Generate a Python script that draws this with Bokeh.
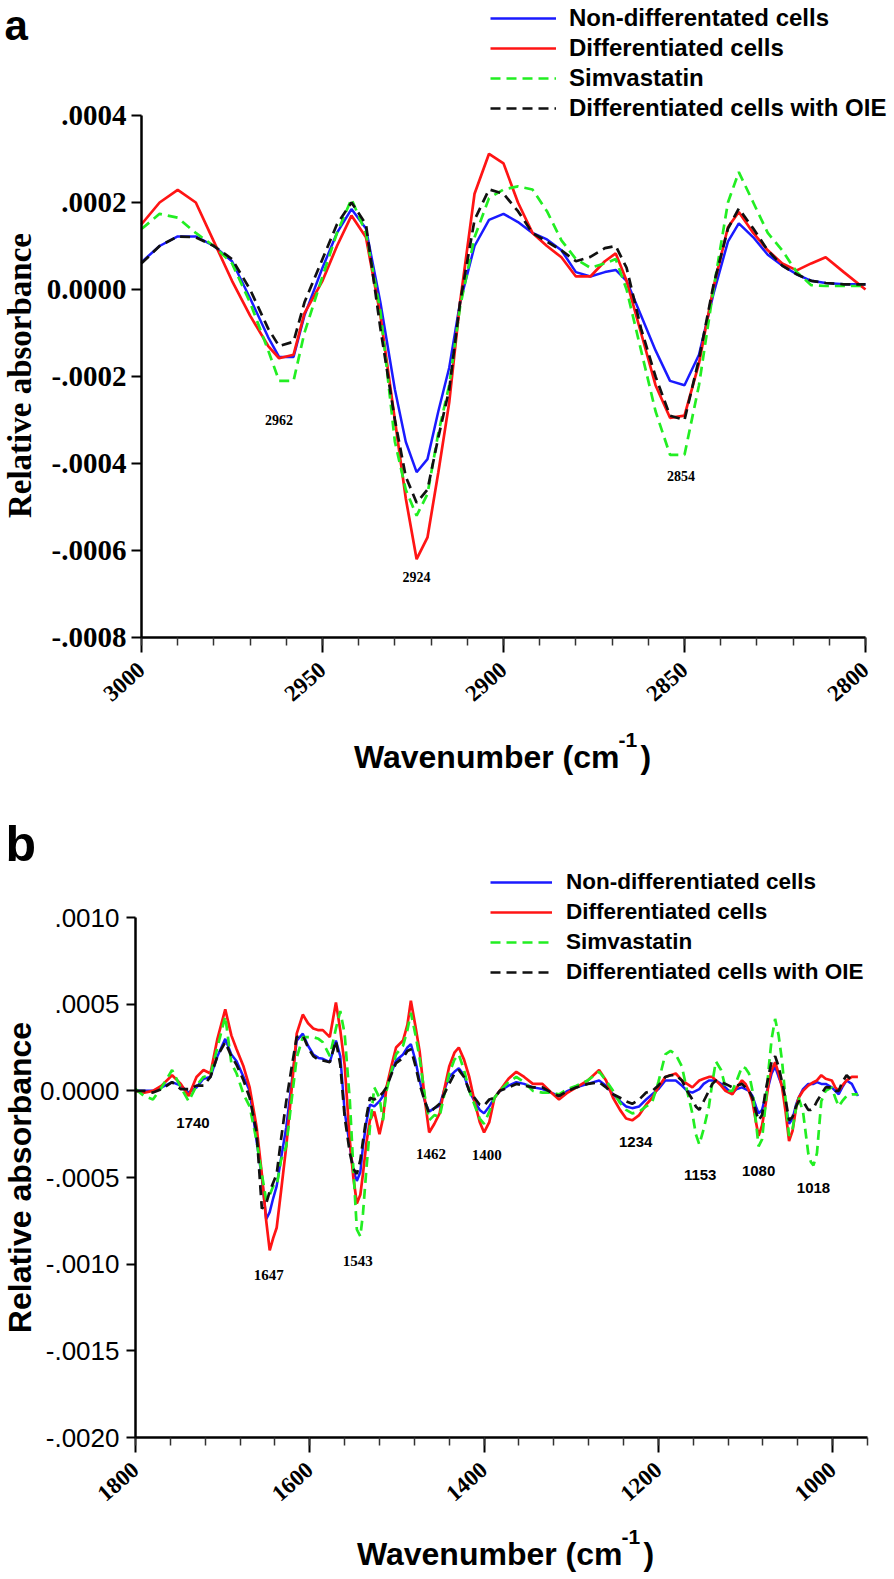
import math
from bokeh.plotting import figure
from bokeh.models import Range1d, FixedTicker, Label, Legend, LegendItem
from bokeh.layouts import column
from bokeh.embed import file_html
from bokeh.resources import INLINE

SCALE = 1e-4  # series values below are in units of 1e-4 absorbance

# ---------------- Panel a (3000-2800 cm-1) ----------------
wn_a = [3000, 2995, 2990, 2985, 2980, 2975, 2970, 2965, 2962, 2958,
        2955, 2950, 2946, 2942, 2938, 2934, 2930, 2927, 2924, 2921,
        2918, 2915, 2912, 2908, 2904, 2900, 2896, 2892, 2888, 2884,
        2880, 2876, 2872, 2869, 2866, 2862, 2858, 2854, 2850, 2846,
        2842, 2838, 2835, 2831, 2827, 2823, 2819, 2815, 2811, 2806, 2800]
nondiff_a = [0.63, 1.0, 1.22, 1.22, 1.0, 0.65, -0.2, -1.1, -1.55, -1.55,
             -0.6, 0.5, 1.3, 1.85, 1.4, -0.3, -2.3, -3.5, -4.2, -3.9,
             -2.8, -1.8, -0.3, 1.0, 1.6, 1.74, 1.55, 1.3, 1.15, 0.9,
             0.4, 0.3, 0.4, 0.45, 0.2, -0.6, -1.4, -2.1, -2.2, -1.5,
             -0.1, 1.1, 1.52, 1.2, 0.8, 0.55, 0.35, 0.2, 0.15, 0.12, 0.12]
diff_a = [1.5, 2.0, 2.29, 2.0, 1.1, 0.2, -0.6, -1.3, -1.58, -1.5,
          -0.55, 0.2, 1.0, 1.7, 1.2, -0.6, -3.0, -4.8, -6.2, -5.7,
          -4.2, -2.6, -0.3, 2.2, 3.12, 2.9, 2.0, 1.3, 1.0, 0.74,
          0.3, 0.3, 0.65, 0.83, 0.2, -1.0, -2.2, -2.95, -2.9, -1.7,
          0.05, 1.43, 1.78, 1.3, 0.9, 0.6, 0.44, 0.6, 0.74, 0.4, 0.0]
simva_a = [1.39, 1.74, 1.65, 1.3, 1.0, 0.6, -0.3, -1.4, -2.1, -2.1,
           -1.0, 0.3, 1.3, 2.08, 1.3, -0.5, -3.5, -4.6, -5.2, -4.7,
           -3.3, -2.2, -0.4, 1.2, 2.1, 2.3, 2.37, 2.3, 1.8, 1.13,
           0.7, 0.5, 0.6, 0.7, 0.0, -1.4, -2.8, -3.8, -3.8, -2.2,
           0.0, 2.0, 2.7, 2.0, 1.3, 0.9, 0.4, 0.1, 0.08, 0.08, 0.08]
oie_a = [0.6, 1.0, 1.22, 1.2, 1.0, 0.7, 0.0, -0.9, -1.3, -1.2,
         -0.3, 0.7, 1.5, 2.0, 1.5, -0.9, -3.0, -4.3, -4.9, -4.6,
         -3.4, -2.3, -0.3, 1.6, 2.3, 2.2, 1.8, 1.3, 1.1, 0.9,
         0.65, 0.75, 0.95, 1.0, 0.5, -0.9, -2.0, -2.9, -3.0, -1.6,
         0.1, 1.4, 1.86, 1.4, 0.9, 0.55, 0.35, 0.2, 0.15, 0.12, 0.12]
xticks_a = [3000, 2950, 2900, 2850, 2800]
yticks_a = [0.0004, 0.0002, 0, -0.0002, -0.0004, -0.0006, -0.0008]
ylabels_a = [".0004", ".0002", "0.0000", "-.0002", "-.0004", "-.0006", "-.0008"]
peak_text_a = ["2962", "2924", "2854"]
peak_x_a = [2962, 2924, 2851]
peak_y_a = [-3.01, -6.62, -4.28]

# ---------------- Panel b (1800-960 cm-1) ----------------
nan = float("nan")
wn_b = [1800, 1790, 1780, 1770, 1758, 1748, 1739, 1730, 1722, 1714,
        1706, 1697, 1690, 1684, 1676, 1669, 1661, 1655, 1650, 1646,
        1642, 1638, 1633, 1627, 1621, 1615, 1608, 1602, 1596, 1590,
        1585, 1577, 1570, 1565, 1560, 1554, 1550, 1546, 1542, 1539,
        1535, 1531, 1526, 1520, 1516, 1512, 1506, 1501, 1493, 1488,
        1484, 1479, 1474, 1468, 1463, 1457, 1451, 1446, 1440, 1434,
        1429, 1423, 1417, 1411, 1405, 1400, 1394, 1388, 1382, 1372,
        1363, 1354, 1344, 1333, 1323, 1314, 1304, 1294, 1281, 1268,
        1260, 1252, 1244, 1237, 1230, 1222, 1214, 1207, 1200, 1192,
        1186, 1180, 1173, 1167, 1161, 1157, 1153, 1148, 1142, 1138,
        1134, 1128, 1123, 1119, 1115, 1110, 1104, 1100, 1096, 1092,
        1088, 1085, 1081, 1077, 1073, 1070, 1066, 1062, 1058, 1054,
        1050, 1046, 1042, 1039, 1034, 1028, 1025, 1022, 1018, 1013,
        1008, 1001, 997, 993, 989, 984, 978, 971]
diff_b = [0.0, -0.1, 0.0, 0.3, 0.9, 0.4, -0.3, 0.8, 1.2, 1.0,
          3.0, 4.7, 3.2, 2.4, 1.4, 0.2, -2.1, -4.8, -7.5, -9.2,
          -8.5, -7.9, -5.8, -3.2, 0.0, 3.3, 4.4, 3.9, 3.6, 3.5,
          3.5, 3.1, 5.1, 3.5, 1.5, -2.9, -5.0, -6.5, -6.0, -4.8,
          -3.0, -1.7, -1.2, -2.5, -1.6, 0.2, 1.5, 2.5, 2.9, 3.8,
          5.2, 3.8, 2.3, -0.5, -2.4, -1.9, -1.3, 0.0, 1.4, 2.2,
          2.5, 1.8, 0.8, -0.6, -1.8, -2.4, -1.8, -0.4, 0.0, 0.7,
          1.1, 0.8, 0.4, 0.4, -0.1, -0.5, -0.1, 0.2, 0.6, 1.2,
          0.6, -0.4, -1.1, -1.6, -1.7, -1.4, -0.8, -0.4, 0.2, 0.8,
          0.9, 1.0, 0.6, 0.4, 0.2, 0.4, 0.6, 0.7, 0.8, 0.8,
          0.6, 0.3, 0.0, -0.1, -0.2, 0.2, 0.6, 0.4, 0.0, -0.6,
          -1.8, -2.6, -2.0, -0.8, 0.6, 1.2, 1.65, 1.0, 0.2, -1.2,
          -2.9, -2.3, -1.0, -0.4, 0.0, 0.3, 0.4, 0.5, 0.6, 0.9,
          0.7, 0.6, 0.2, 0.0, 0.3, 0.6, 0.8, 0.8]
nondiff_b = [0.0, 0.0, 0.0, 0.2, 0.5, 0.3, -0.1, 0.2, 0.7, 0.8,
             2.0, 3.0, 2.1, 1.7, 0.8, 0.0, -2.9, -5.0, -7.4, -7.0,
             -6.2, -5.5, -3.9, -2.1, 0.4, 2.9, 3.3, 2.6, 2.1, 1.9,
             1.85, 1.65, 2.9, 2.0, -1.2, -3.2, -4.6, -5.2, -4.7, -3.2,
             -1.8, -0.8, -0.9, -0.6, -0.3, 0.2, 1.1, 1.75, 2.1, 2.5,
             2.7, 1.8, 0.6, -0.6, -1.2, -1.0, -0.85, 0.0, 0.8, 1.1,
             1.3, 0.9, 0.0, -0.6, -1.1, -1.3, -0.9, -0.4, 0.0, 0.3,
             0.5, 0.4, 0.2, 0.1, -0.1, -0.3, 0.0, 0.2, 0.4, 0.6,
             0.3, -0.2, -0.6, -0.9, -1.0, -0.9, -0.5, -0.2, 0.1, 0.6,
             0.6, 0.6, 0.3, 0.0, -0.1, 0.0, 0.1, 0.4, 0.6, 0.6,
             0.6, 0.4, 0.2, 0.0, -0.1, 0.1, 0.2, 0.1, 0.0, -0.3,
             -0.9, -1.3, -1.1, -0.3, 0.4, 1.0, 1.4, 0.8, 0.3, -0.8,
             -1.9, -1.6, -0.8, -0.4, 0.1, 0.4, 0.4, 0.4, 0.5, 0.4,
             0.4, 0.2, 0.0, -0.2, 0.2, 0.6, 0.4, -0.3]
oie_b = [0.0, 0.0, -0.1, 0.1, 0.5, 0.1, 0.1, 0.3, 0.3, 0.8,
         2.0, 2.8, 2.0, 1.5, 0.6, -0.4, -2.4, -6.8, -6.5, -5.8,
         -5.3, -4.8, -2.8, -0.6, 1.3, 3.1, 3.2, 2.5, 2.0, 1.8,
         1.75, 1.65, 2.9, 1.5, -1.5, -3.6, -4.5, -4.8, -4.0, -2.9,
         -1.5, -0.4, -0.5, -0.3, -0.1, 0.2, 1.0, 1.6, 1.9, 2.3,
         2.4, 1.5, 0.4, -0.6, -1.3, -1.0, -0.75, -0.2, 0.4, 1.0,
         1.2, 0.8, 0.0, -0.4, -0.8, -0.85, -0.5, -0.4, 0.0, 0.2,
         0.4, 0.3, 0.2, 0.2, -0.1, -0.3, 0.0, 0.2, 0.4, 0.5,
         0.2, -0.2, -0.4, -0.6, -0.75, -0.5, -0.1, 0.0, 0.3, 0.8,
         0.9, 0.9, 0.6, 0.0, -0.5, -0.9, -1.1, -0.6, 0.0, 0.4,
         0.6, 0.5, 0.4, 0.3, 0.2, 0.3, 0.4, 0.2, 0.0, -0.4,
         -1.2, -1.7, -1.4, 0.0, 1.0, 1.7, 2.0, 1.4, 0.5, -0.5,
         -1.7, -1.5, -0.9, -0.6, -0.6, -1.1, -1.1, -1.0, -0.6, -0.2,
         0.2, 0.2, 0.0, 0.0, 0.5, 0.9, 0.6, nan]
simva_b = [0.1, -0.3, -0.5, 0.2, 1.2, 0.2, -0.6, 0.3, 0.8, 0.9,
           2.5, 4.3, 1.6, 1.0, -0.2, -0.9, -2.9, -4.8, -6.3, -6.0,
           -5.5, -5.5, -4.0, -3.2, -0.6, 1.9, 3.1, 3.1, 3.1, 3.0,
           2.8, 2.0, 3.6, 4.6, 3.3, -0.6, -4.5, -8.0, -8.4, -7.1,
           -4.5, -2.1, 0.2, -0.4, -1.7, 0.0, 1.2, 2.1, 2.6, 3.5,
           4.5, 3.3, 1.9, -0.3, -1.7, -1.4, -1.5, -0.3, 1.0, 1.8,
           2.1, 1.2, 0.0, -0.8, -1.6, -1.9, -1.2, -0.4, 0.0, 0.5,
           0.8, 0.5, 0.0, -0.1, -0.1, -0.2, 0.1, 0.3, 0.6, 1.1,
           0.6, 0.0, -0.7, -1.1, -1.3, -1.2, -0.9, -0.65, 0.5, 2.1,
           2.3, 2.1, 1.4, 0.0, -1.3, -2.5, -3.1, -2.2, -0.9, 0.5,
           1.7, 1.2, 0.2, 0.0, 0.0, 0.6, 1.4, 1.3, 1.0, 0.0,
           -1.8, -3.2, -2.8, -0.8, 1.5, 3.0, 4.15, 3.2, 1.7, -0.5,
           -2.6, -2.2, -1.0, -0.4, -1.2, -3.6, -4.1, -4.3, -3.6, -0.6,
           0.0, 0.2, -0.4, -0.9, -0.6, -0.3, -0.2, -0.2]
xticks_b = [1800, 1600, 1400, 1200, 1000]
yticks_b = [0.001, 0.0005, 0, -0.0005, -0.001, -0.0015, -0.002]
ylabels_b = [".0010", ".0005", "0.0000", "-.0005", "-.0010", "-.0015", "-.0020"]
peak_text_b = ["1740", "1647", "1543", "1462", "1400", "1234", "1153", "1080", "1018"]
peak_x_b = [1734, 1647, 1545, 1461, 1397, 1226, 1152, 1085, 1022]
peak_y_b = [-1.88, -10.65, -9.79, -3.62, -3.73, -2.98, -4.88, -4.60, -5.63]

series_names = ["Non-differentated cells", "Differentiated cells", "Simvastatin",
                "Differentiated cells with OIE"]
series_names_b = ["Non-differentiated cells", "Differentiated cells", "Simvastatin",
                  "Differentiated cells with OIE"]

SERIF = "Liberation Serif"
SANS = "Liberation Sans"
W = 894

STYLES = [
    dict(line_color="#1a1aff", line_width=2.5),
    dict(line_color="#ff1414", line_width=2.7),
    dict(line_color="#22ee22", line_width=2.7, line_dash="10 6"),
    dict(line_color="#111111", line_width=2.7, line_dash="10 6"),
]


def lin(p0, v0, p1, v1, p):
    return v0 + (p - p0) * (v1 - v0) / (p1 - p0)


class Panel:
    """Pixel layout of one panel: the frame fills the whole figure and the
    axes are drawn at fixed data locations."""

    def __init__(self, height, xa, ya):
        self.h = height
        self.xa = xa  # (px0, v0, px1, v1)
        self.ya = ya  # (py0, v0, py1, v1) in figure pixels from the top

    def x(self, px):
        return lin(*self.xa, px)

    def y(self, py):
        return lin(*self.ya, py)


def txt(p, P, px, py, text, size, font, style="bold", align="left",
        baseline="alphabetic", angle=0.0):
    # py: wanted visual baseline; renderer draws "alphabetic" text ~0.38 em low
    if baseline == "alphabetic":
        py = py - 0.38 * size
    p.add_layout(Label(x=P.x(px), y=P.y(py), text=text,
                       text_font=font, text_font_size=f"{size}px",
                       text_font_style=style, text_align=align,
                       text_baseline=baseline, angle=angle,
                       text_color="black"))


def make_panel(P, wn, series, names, xb, yb, xticks, minor, yticks, ylabels,
               ytick_font, ytick_size, ytick_style, ytick_out, ytick_standoff,
               legend_size, legend_loc, glyph_w, legend_standoff, legend_spacing):
    p = figure(width=W, height=P.h,
               x_range=Range1d(P.x(0), P.x(W)), y_range=Range1d(P.y(P.h), P.y(0)),
               output_backend="svg", toolbar_location=None,
               min_border=0, min_border_top=0, min_border_left=0,
               min_border_bottom=0, min_border_right=0)
    p.background_fill_color = "white"
    p.border_fill_color = "white"
    p.outline_line_color = None
    p.xgrid.visible = False
    p.ygrid.visible = False

    items = []
    for vals, name, st in zip(series, names, STYLES):
        r = p.line(x=wn, y=[v * SCALE for v in vals], **st)
        items.append(LegendItem(label=name, renderers=[r]))
    leg = Legend(items=items, location=legend_loc, glyph_width=glyph_w, glyph_height=20,
                 label_height=20, label_standoff=legend_standoff, spacing=legend_spacing,
                 padding=0, margin=0, border_line_alpha=0, background_fill_alpha=0,
                 label_text_font=SANS, label_text_font_size=f"{legend_size}px",
                 label_text_font_style="bold", label_text_color="black")
    p.add_layout(leg)

    xa = p.xaxis[0]
    xa.fixed_location = yb[0]
    xa.bounds = xb
    xa.ticker = FixedTicker(ticks=xticks, minor_ticks=minor)
    xa.major_label_orientation = 0.72
    xa.major_label_text_font = SERIF
    xa.major_label_text_font_style = "bold"
    xa.major_label_text_font_size = "23px"
    xa.major_label_text_color = "black"
    xa.major_label_standoff = 14
    xa.axis_line_width = 2.5
    xa.axis_line_color = "black"
    xa.major_tick_in = 0
    xa.major_tick_out = 15
    xa.minor_tick_in = 0
    xa.minor_tick_out = 8
    xa.major_tick_line_width = 2
    xa.minor_tick_line_width = 1.5
    xa.major_tick_line_color = "black"
    xa.minor_tick_line_color = "#333333"

    ya = p.yaxis[0]
    ya.fixed_location = xb[1]
    ya.bounds = yb
    ya.ticker = FixedTicker(ticks=yticks)
    ya.major_label_overrides = {t: s for t, s in zip(yticks, ylabels)}
    ya.major_label_text_font = ytick_font
    ya.major_label_text_font_size = f"{ytick_size}px"
    ya.major_label_text_font_style = ytick_style
    ya.major_label_text_color = "black"
    ya.major_label_standoff = ytick_standoff
    ya.axis_line_width = 2.5
    ya.axis_line_color = "black"
    ya.major_tick_in = 0
    ya.major_tick_out = ytick_out
    ya.major_tick_line_width = 2
    ya.minor_tick_line_color = None
    return p


# ---------- panel a ----------
HA = 790
PA = Panel(HA, (141, 3000, 865, 2800), (115, 0.0004, 637, -0.0008))
pa = make_panel(PA, wn_a, [nondiff_a, diff_a, simva_a, oie_a], series_names,
                (2800, 3000), (-0.0008, 0.0004),
                xticks_a, list(range(3000, 2799, -10)), yticks_a, ylabels_a,
                SERIF, 29, "bold", 10, 5,
                24, (490, HA - 122), 66, 13, 2)
for t, x, y in zip(peak_text_a, peak_x_a, peak_y_a):
    pa.add_layout(Label(x=x, y=y * SCALE, text=t, text_font=SERIF, text_font_size="14px",
                        text_font_style="bold", text_align="center", text_baseline="middle",
                        text_color="black"))
txt(pa, PA, 4, 41, "a", 42, SANS)
txt(pa, PA, 19, 375, "Relative absorbance", 33, SERIF, align="center",
    baseline="middle", angle=math.pi / 2)
txt(pa, PA, 619, 769, "Wavenumber (cm", 32, SANS, align="right")
txt(pa, PA, 618, 747, "-1", 21, SANS)
txt(pa, PA, 640, 769, ")", 32, SANS)

# ---------- panel b ----------
HB = 788
OFF = 790  # page y of panel b's top edge
PB = Panel(HB, (135, 1800, 867, 960), (917 - OFF, 0.0010, 1437 - OFF, -0.0020))
pb = make_panel(PB, wn_b, [nondiff_b, diff_b, simva_b, oie_b], series_names_b,
                (960, 1800), (-0.0020, 0.0010),
                xticks_b, list(range(1800, 959, -40)), yticks_b, ylabels_b,
                SANS, 26, "normal", 9, 7,
                22.5, (490, HB - 195), 62, 14, 4)
serif_peaks = {"1647", "1543", "1462", "1400"}
for t, x, y in zip(peak_text_b, peak_x_b, peak_y_b):
    pb.add_layout(Label(x=x, y=y * SCALE, text=t,
                        text_font=SERIF if t in serif_peaks else SANS,
                        text_font_size="15px", text_font_style="bold",
                        text_align="center", text_baseline="middle", text_color="black"))
txt(pb, PB, 5, 862 - OFF, "b", 50, SANS)
txt(pb, PB, 19, 1177 - OFF, "Relative absorbance", 32, SANS, align="center",
    baseline="middle", angle=math.pi / 2)
txt(pb, PB, 622, 1566 - OFF, "Wavenumber (cm", 32, SANS, align="right")
txt(pb, PB, 621, 1544 - OFF, "-1", 21, SANS)
txt(pb, PB, 643, 1566 - OFF, ")", 32, SANS)

layout = column(pa, pb, spacing=0)
open("out.html", "w").write(file_html(layout, INLINE))
